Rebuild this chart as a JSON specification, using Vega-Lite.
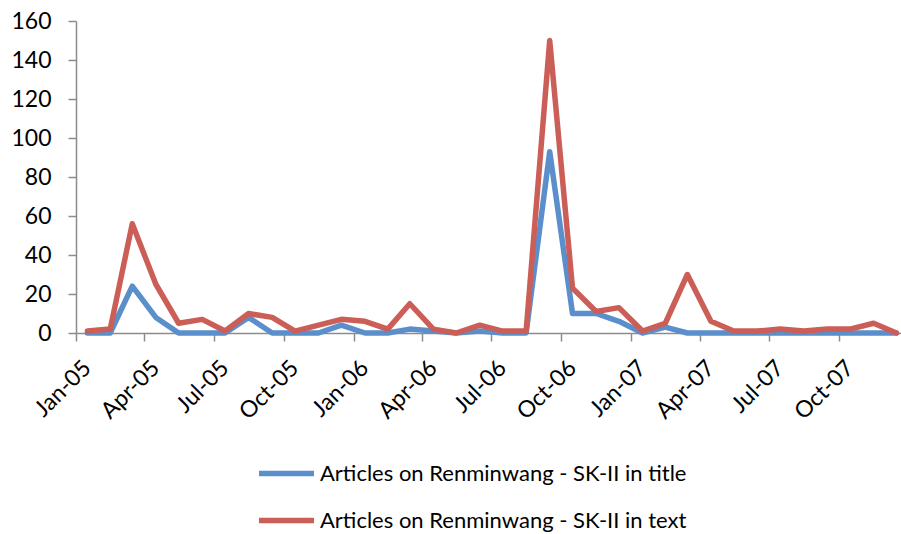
{
  "$schema": "https://vega.github.io/schema/vega-lite/v6.json",
  "autosize": "none",
  "width": 825,
  "height": 312,
  "padding": {"left": 76, "top": 21, "right": 0, "bottom": 201},
  "background": "white",
  "config": {
    "view": {"stroke": null},
    "font": "Lato"
  },
  "data": {
    "values": [
      {"month": "2005-01-16", "title": 0, "text": 1},
      {"month": "2005-02-15", "title": 0, "text": 2},
      {"month": "2005-03-16", "title": 24, "text": 56},
      {"month": "2005-04-16", "title": 8, "text": 25},
      {"month": "2005-05-16", "title": 0, "text": 5},
      {"month": "2005-06-16", "title": 0, "text": 7},
      {"month": "2005-07-16", "title": 0, "text": 1},
      {"month": "2005-08-16", "title": 8, "text": 10},
      {"month": "2005-09-16", "title": 0, "text": 8},
      {"month": "2005-10-16", "title": 0, "text": 1},
      {"month": "2005-11-16", "title": 0, "text": 4},
      {"month": "2005-12-16", "title": 4, "text": 7},
      {"month": "2006-01-16", "title": 0, "text": 6},
      {"month": "2006-02-15", "title": 0, "text": 2},
      {"month": "2006-03-16", "title": 2, "text": 15},
      {"month": "2006-04-16", "title": 1, "text": 2},
      {"month": "2006-05-16", "title": 0, "text": 0},
      {"month": "2006-06-16", "title": 1, "text": 4},
      {"month": "2006-07-16", "title": 0, "text": 1},
      {"month": "2006-08-16", "title": 0, "text": 1},
      {"month": "2006-09-16", "title": 93, "text": 150},
      {"month": "2006-10-16", "title": 10, "text": 23},
      {"month": "2006-11-16", "title": 10, "text": 11},
      {"month": "2006-12-16", "title": 6, "text": 13},
      {"month": "2007-01-16", "title": 0, "text": 1},
      {"month": "2007-02-15", "title": 3, "text": 5},
      {"month": "2007-03-16", "title": 0, "text": 30},
      {"month": "2007-04-16", "title": 0, "text": 6},
      {"month": "2007-05-16", "title": 0, "text": 1},
      {"month": "2007-06-16", "title": 0, "text": 1},
      {"month": "2007-07-16", "title": 0, "text": 2},
      {"month": "2007-08-16", "title": 0, "text": 1},
      {"month": "2007-09-16", "title": 0, "text": 2},
      {"month": "2007-10-16", "title": 0, "text": 2},
      {"month": "2007-11-16", "title": 0, "text": 5},
      {"month": "2007-12-16", "title": 0, "text": 0}
    ]
  },
  "transform": [
    {"fold": ["title", "text"], "as": ["series", "count"]}
  ],
  "mark": {"type": "line", "strokeWidth": 5.5, "strokeJoin": "round", "strokeCap": "round"},
  "encoding": {
    "x": {
      "field": "month",
      "type": "temporal",
      "scale": {
        "type": "utc",
        "domain": [
          {"year": 2005, "month": 1, "date": 1, "utc": true},
          {"year": 2007, "month": 12, "date": 22, "utc": true}
        ]
      },
      "axis": {
        "title": null,
        "grid": false,
        "values": [
          {"year": 2005, "month": 1, "date": 1, "utc": true},
          {"year": 2005, "month": 4, "date": 1, "utc": true},
          {"year": 2005, "month": 7, "date": 1, "utc": true},
          {"year": 2005, "month": 10, "date": 1, "utc": true},
          {"year": 2006, "month": 1, "date": 1, "utc": true},
          {"year": 2006, "month": 4, "date": 1, "utc": true},
          {"year": 2006, "month": 7, "date": 1, "utc": true},
          {"year": 2006, "month": 10, "date": 1, "utc": true},
          {"year": 2007, "month": 1, "date": 1, "utc": true},
          {"year": 2007, "month": 4, "date": 1, "utc": true},
          {"year": 2007, "month": 7, "date": 1, "utc": true},
          {"year": 2007, "month": 10, "date": 1, "utc": true}
        ],
        "labelExpr": "utcFormat(datum.value, '%b-%y')",
        "labelAngle": -45,
        "labelAlign": "right",
        "labelBaseline": "middle",
        "labelPadding": 23,
        "labelOffset": 11,
        "labelFont": "Lato",
        "labelFontSize": 23,
        "labelColor": "#000000",
        "labelOverlap": false,
        "domainColor": "#8c8c8c",
        "domainWidth": 1.5,
        "tickColor": "#8c8c8c",
        "tickWidth": 1.5,
        "tickSize": 8
      }
    },
    "y": {
      "field": "count",
      "type": "quantitative",
      "scale": {"domain": [0, 160]},
      "axis": {
        "title": null,
        "grid": false,
        "values": [0, 20, 40, 60, 80, 100, 120, 140, 160],
        "labelPadding": 17,
        "labelFont": "Lato",
        "labelFontSize": 23,
        "labelColor": "#000000",
        "domainColor": "#8c8c8c",
        "domainWidth": 1.5,
        "tickColor": "#8c8c8c",
        "tickWidth": 1.5,
        "tickSize": 8
      }
    },
    "color": {
      "field": "series",
      "type": "nominal",
      "scale": {
        "domain": ["title", "text"],
        "range": ["#5A8FCB", "#CB5F57"]
      },
      "legend": {
        "title": null,
        "orient": "none",
        "legendX": 180,
        "legendY": 422,
        "direction": "vertical",
        "symbolType": "stroke",
        "symbolSize": 3025,
        "symbolStrokeWidth": 5.5,
        "labelFont": "Lato",
        "labelFontSize": 22,
        "labelColor": "#000000",
        "rowPadding": 5,
        "labelOffset": 3,
        "labelLimit": 600,
        "labelExpr": "datum.value == 'title' ? 'Articles on Renminwang - SK-II in title' : 'Articles on Renminwang - SK-II in text'"
      }
    }
  }
}
